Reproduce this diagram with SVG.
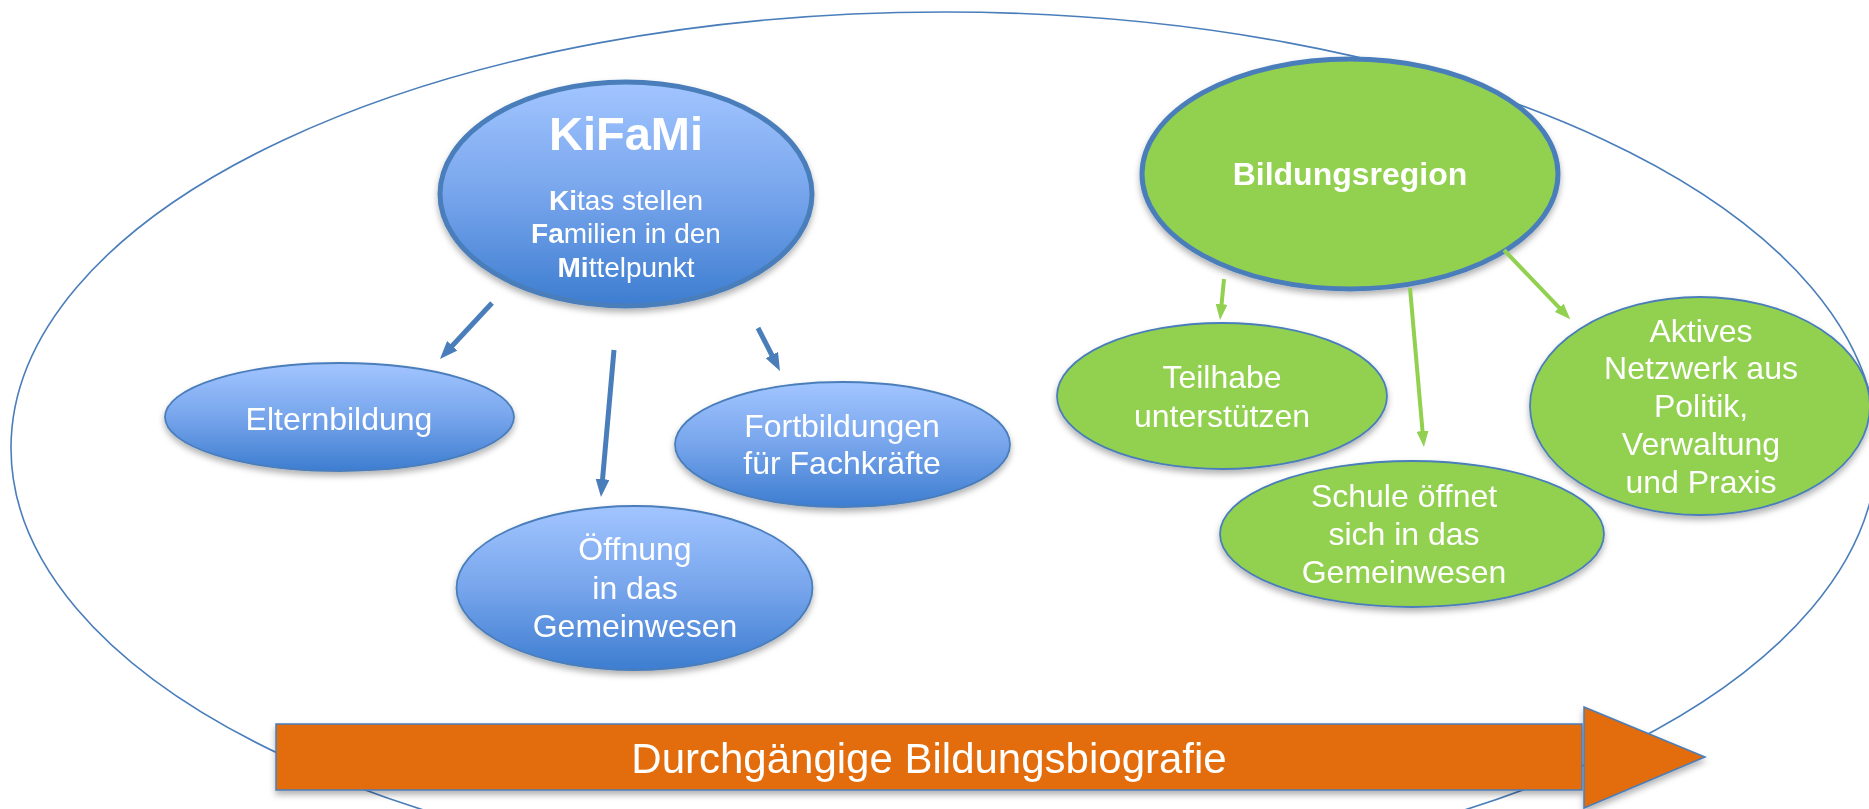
<svg xmlns="http://www.w3.org/2000/svg" width="1869" height="809" viewBox="0 0 1869 809">
<defs>
<style>
.t{font-family:"Liberation Sans",Arial,sans-serif;fill:#ffffff;text-anchor:middle;font-size:32px}
.b{font-weight:bold}
.blue{fill:url(#gb);stroke:#4a7ebb;stroke-width:1.8}
.green{fill:#92d050;stroke:#4a7ebb;stroke-width:1.8}
.ca{fill:none;stroke:#4a7ebb;stroke-width:5}
.cg{fill:none;stroke:#92d050;stroke-width:4}
</style>
<linearGradient id="gb" x1="0" y1="0" x2="0" y2="1">
<stop offset="0" stop-color="#a2c5ff"/>
<stop offset="0.5" stop-color="#77a5ec"/>
<stop offset="1" stop-color="#3d7dd0"/>
</linearGradient>
<filter id="sh" x="-10%" y="-10%" width="120%" height="130%">
<feDropShadow dx="0" dy="4" stdDeviation="3" flood-color="#000" flood-opacity="0.3"/>
</filter>
<marker id="mb" markerUnits="userSpaceOnUse" markerWidth="18" markerHeight="14" refX="4" refY="7" orient="auto">
<path d="M0,0 L18,7 L0,14 z" fill="#4a7ebb"/>
</marker>
<marker id="mg" markerUnits="userSpaceOnUse" markerWidth="16" markerHeight="12" refX="3" refY="6" orient="auto">
<path d="M0,0 L16,6 L0,12 z" fill="#92d050"/>
</marker>
</defs>
<rect width="1869" height="809" fill="#ffffff"/>
<ellipse id="frame" cx="944" cy="448" rx="933" ry="436" fill="none" stroke="#4a7ebb" stroke-width="1.6"/>

<g id="kifami" filter="url(#sh)">
<ellipse cx="626" cy="194" rx="186" ry="112" class="blue" style="stroke-width:5"/>
<text class="t b" x="626" y="150" style="font-size:47px">KiFaMi</text>
<text class="t" x="626" y="210" style="font-size:28px"><tspan font-weight="bold">Ki</tspan>tas stellen</text>
<text class="t" x="626" y="243" style="font-size:28px"><tspan font-weight="bold">Fa</tspan>milien in den</text>
<text class="t" x="626" y="277" style="font-size:28px"><tspan font-weight="bold">Mi</tspan>ttelpunkt</text>
</g>

<g id="elternbildung" filter="url(#sh)">
<ellipse cx="339.5" cy="417" rx="174.5" ry="54" class="blue"/>
<text class="t" x="339" y="430">Elternbildung</text>
</g>

<g id="oeffnung" filter="url(#sh)">
<ellipse cx="634.5" cy="588" rx="178" ry="82" class="blue"/>
<text class="t" x="635" y="560">Öffnung</text>
<text class="t" x="635" y="599">in das</text>
<text class="t" x="635" y="637">Gemeinwesen</text>
</g>

<g id="fortbildungen" filter="url(#sh)">
<ellipse cx="842.5" cy="444.5" rx="167.5" ry="62.5" class="blue"/>
<text class="t" x="842" y="437">Fortbildungen</text>
<text class="t" x="842" y="474">für Fachkräfte</text>
</g>

<g id="bildungsregion" filter="url(#sh)">
<ellipse cx="1350" cy="174" rx="208" ry="115" class="green" style="stroke-width:5"/>
<text class="t b" x="1350" y="185">Bildungsregion</text>
</g>

<g id="teilhabe" filter="url(#sh)">
<ellipse cx="1222" cy="396" rx="165" ry="73" class="green"/>
<text class="t" x="1222" y="388">Teilhabe</text>
<text class="t" x="1222" y="427">unterstützen</text>
</g>

<g id="schule" filter="url(#sh)">
<ellipse cx="1412" cy="534" rx="192" ry="73" class="green"/>
<text class="t" x="1404" y="507">Schule öffnet</text>
<text class="t" x="1404" y="545">sich in das</text>
<text class="t" x="1404" y="583">Gemeinwesen</text>
</g>

<g id="netzwerk" filter="url(#sh)">
<ellipse cx="1700" cy="406" rx="170" ry="109" class="green"/>
<text class="t" x="1701" y="342">Aktives</text>
<text class="t" x="1701" y="379">Netzwerk aus</text>
<text class="t" x="1701" y="417">Politik,</text>
<text class="t" x="1701" y="455">Verwaltung</text>
<text class="t" x="1701" y="493">und Praxis</text>
</g>

<g id="connectors">
<path class="ca" d="M492,303 L449.5,348.7" marker-end="url(#mb)"/>
<path class="ca" d="M614,350 L602.2,483.1" marker-end="url(#mb)"/>
<path class="ca" d="M758,328 L773.6,358.5" marker-end="url(#mb)"/>
<path class="cg" d="M1224,279 L1221.3,307.1" marker-end="url(#mg)"/>
<path class="cg" d="M1410,288 L1422.8,434.1" marker-end="url(#mg)"/>
<path class="cg" d="M1504,250 L1561.3,309.9" marker-end="url(#mg)"/>
</g>

<g id="timeline" filter="url(#sh)">
<rect x="276" y="724" width="1306" height="66" fill="#e36c0a" stroke="#4a7ebb" stroke-width="1.5"/>
<polygon points="1584,707 1705,757 1584,808" fill="#e36c0a" stroke="#4a7ebb" stroke-width="1.5"/>
<text class="t" x="929" y="773" style="font-size:42px">Durchgängige Bildungsbiografie</text>
</g>
</svg>
